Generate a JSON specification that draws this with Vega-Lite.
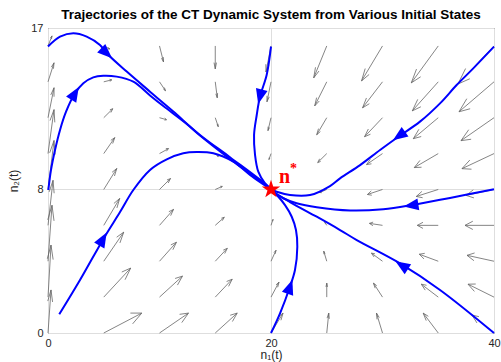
{
  "$schema": "https://vega.github.io/schema/vega-lite/v6.json",
  "width": 446,
  "height": 305,
  "autosize": "none",
  "padding": {"left": 48, "top": 28, "right": 7, "bottom": 29},
  "title": {"text": "Trajectories of the CT Dynamic System from Various Initial States", "fontSize": 13.5, "fontWeight": "bold", "font": "Liberation Sans", "color": "#000000", "anchor": "middle", "frame": "group", "offset": 1},
  "config": {
    "view": {"stroke": "#262626", "strokeWidth": 1},
    "axis": {"labelFont": "Liberation Sans", "labelFontSize": 11, "labelColor": "#262626", "titleFont": "Liberation Sans", "titleFontSize": 12, "titleFontWeight": "normal", "titleColor": "#262626", "gridColor": "#dedede", "gridWidth": 1, "ticks": false, "domain": false, "labelFlush": false, "labelOverlap": false},
    "axisX": {"labelPadding": 4, "titlePadding": 1},
    "axisY": {"labelPadding": 5, "titlePadding": 10}
  },
  "datasets": {
    "arrows": [
      {"x":0,"y":0,"hx":0.27,"hy":2.4,"b1x":-0.02,"b1y":1.78,"b2x":0.41,"b2y":1.73},
      {"x":0,"y":2,"hx":0.27,"hy":4.9,"b1x":-0.06,"b1y":4.14,"b2x":0.46,"b2y":4.09},
      {"x":0,"y":4,"hx":0.36,"hy":7.12,"b1x":-0.02,"b1y":6.31,"b2x":0.54,"b2y":6.25},
      {"x":0,"y":6,"hx":0.45,"hy":8.51,"b1x":0.11,"b1y":7.87,"b2x":0.55,"b2y":7.79},
      {"x":0,"y":8,"hx":0.54,"hy":10.73,"b1x":0.15,"b1y":10.04,"b2x":0.64,"b2y":9.95},
      {"x":0,"y":10,"hx":0.54,"hy":12.45,"b1x":0.18,"b1y":11.84,"b2x":0.61,"b2y":11.74},
      {"x":0,"y":12,"hx":0.54,"hy":13.67,"b1x":0.25,"b1y":13.27,"b2x":0.54,"b2y":13.17},
      {"x":0,"y":14,"hx":0.54,"hy":15.06,"b1x":0.3,"b1y":14.82,"b2x":0.49,"b2y":14.73},
      {"x":0,"y":16,"hx":0.36,"hy":16.56,"b1x":0.21,"b1y":16.44,"b2x":0.31,"b2y":16.38},
      {"x":5,"y":0,"hx":8.41,"hy":1.11,"b1x":7.39,"b1y":1.11,"b2x":7.59,"b2y":0.51},
      {"x":5,"y":2,"hx":7.42,"hy":3.62,"b1x":6.62,"b1y":3.4,"b2x":6.91,"b2y":2.97},
      {"x":5,"y":4,"hx":6.79,"hy":5.62,"b1x":6.16,"b1y":5.34,"b2x":6.45,"b2y":5.02},
      {"x":5,"y":6,"hx":6.43,"hy":7.5,"b1x":5.91,"b1y":7.22,"b2x":6.18,"b2y":6.97},
      {"x":5,"y":8,"hx":6.17,"hy":9.17,"b1x":5.75,"b1y":8.96,"b2x":5.96,"b2y":8.75},
      {"x":5,"y":10,"hx":5.99,"hy":10.89,"b1x":5.64,"b1y":10.74,"b2x":5.8,"b2y":10.56},
      {"x":5,"y":12,"hx":5.81,"hy":12.5,"b1x":5.55,"b1y":12.44,"b2x":5.64,"b2y":12.29},
      {"x":5,"y":14,"hx":5.72,"hy":14.11,"b1x":5.52,"b1y":14.14,"b2x":5.54,"b2y":14.02},
      {"x":5,"y":16,"hx":5.54,"hy":15.83,"b1x":5.41,"b1y":15.92,"b2x":5.38,"b2y":15.83},
      {"x":10,"y":0,"hx":12.6,"hy":1.11,"b1x":11.8,"b1y":1.04,"b2x":12.0,"b2y":0.58},
      {"x":10,"y":2,"hx":12.06,"hy":3.17,"b1x":11.4,"b1y":3.04,"b2x":11.61,"b2y":2.67},
      {"x":10,"y":4,"hx":11.52,"hy":5.06,"b1x":11.02,"b1y":4.91,"b2x":11.2,"b2y":4.64},
      {"x":10,"y":6,"hx":11.26,"hy":6.89,"b1x":10.84,"b1y":6.76,"b2x":11.0,"b2y":6.54},
      {"x":10,"y":8,"hx":10.99,"hy":8.61,"b1x":10.67,"b1y":8.53,"b2x":10.78,"b2y":8.36},
      {"x":10,"y":10,"hx":10.81,"hy":10.28,"b1x":10.57,"b1y":10.28,"b2x":10.62,"b2y":10.13},
      {"x":10,"y":12,"hx":10.63,"hy":11.89,"b1x":10.47,"b1y":11.98,"b2x":10.45,"b2y":11.86},
      {"x":10,"y":14,"hx":10.54,"hy":13.5,"b1x":10.44,"b1y":13.68,"b2x":10.35,"b2y":13.59},
      {"x":10,"y":16,"hx":10.36,"hy":15.11,"b1x":10.34,"b1y":15.38,"b2x":10.18,"b2y":15.32},
      {"x":15,"y":0,"hx":16.97,"hy":1.11,"b1x":16.34,"b1y":0.99,"b2x":16.54,"b2y":0.64},
      {"x":15,"y":2,"hx":16.52,"hy":3.0,"b1x":16.02,"b1y":2.87,"b2x":16.2,"b2y":2.6},
      {"x":15,"y":4,"hx":16.08,"hy":4.72,"b1x":15.72,"b1y":4.62,"b2x":15.85,"b2y":4.43},
      {"x":15,"y":6,"hx":15.81,"hy":6.45,"b1x":15.55,"b1y":6.4,"b2x":15.63,"b2y":6.26},
      {"x":15,"y":8,"hx":15.63,"hy":8.17,"b1x":15.45,"b1y":8.18,"b2x":15.48,"b2y":8.07},
      {"x":15,"y":10,"hx":15.27,"hy":9.83,"b1x":15.21,"b1y":9.9,"b2x":15.18,"b2y":9.85},
      {"x":15,"y":12,"hx":15.27,"hy":11.5,"b1x":15.24,"b1y":11.66,"b2x":15.15,"b2y":11.61},
      {"x":15,"y":14,"hx":15.18,"hy":13.11,"b1x":15.21,"b1y":13.37,"b2x":15.05,"b2y":13.33},
      {"x":15,"y":16,"hx":15.0,"hy":14.72,"b1x":15.11,"b1y":15.07,"b2x":14.89,"b2y":15.07},
      {"x":20,"y":0,"hx":21.08,"hy":1.11,"b1x":20.69,"b1y":0.91,"b2x":20.89,"b2y":0.71},
      {"x":20,"y":2,"hx":20.72,"hy":2.84,"b1x":20.45,"b1y":2.68,"b2x":20.6,"b2y":2.55},
      {"x":20,"y":4,"hx":20.45,"hy":4.61,"b1x":20.27,"b1y":4.49,"b2x":20.38,"b2y":4.41},
      {"x":20,"y":6,"hx":20.18,"hy":6.33,"b1x":20.1,"b1y":6.26,"b2x":20.16,"b2y":6.23},
      {"x":20,"y":10,"hx":19.82,"hy":9.67,"b1x":19.9,"b1y":9.74,"b2x":19.84,"b2y":9.78},
      {"x":20,"y":12,"hx":19.73,"hy":11.28,"b1x":19.87,"b1y":11.45,"b2x":19.74,"b2y":11.5},
      {"x":20,"y":14,"hx":19.64,"hy":12.89,"b1x":19.84,"b1y":13.16,"b2x":19.64,"b2y":13.22},
      {"x":20,"y":16,"hx":19.55,"hy":14.55,"b1x":19.8,"b1y":14.9,"b2x":19.54,"b2y":14.98},
      {"x":25,"y":0,"hx":25.18,"hy":1.11,"b1x":25.03,"b1y":0.83,"b2x":25.23,"b2y":0.79},
      {"x":25,"y":2,"hx":25.0,"hy":2.78,"b1x":24.93,"b1y":2.57,"b2x":25.07,"b2y":2.57},
      {"x":25,"y":4,"hx":24.73,"hy":4.56,"b1x":24.75,"b1y":4.39,"b2x":24.85,"b2y":4.43},
      {"x":25,"y":6,"hx":24.82,"hy":6.17,"b1x":24.85,"b1y":6.11,"b2x":24.88,"b2y":6.14},
      {"x":25,"y":8,"hx":24.37,"hy":7.83,"b1x":24.56,"b1y":7.82,"b2x":24.53,"b2y":7.93},
      {"x":25,"y":10,"hx":24.19,"hy":9.5,"b1x":24.45,"b1y":9.56,"b2x":24.36,"b2y":9.71},
      {"x":25,"y":12,"hx":24.1,"hy":11.05,"b1x":24.43,"b1y":11.23,"b2x":24.26,"b2y":11.39},
      {"x":25,"y":14,"hx":23.92,"hy":12.66,"b1x":24.33,"b1y":12.93,"b2x":24.09,"b2y":13.12},
      {"x":25,"y":16,"hx":23.83,"hy":14.22,"b1x":24.3,"b1y":14.6,"b2x":23.99,"b2y":14.81},
      {"x":30,"y":0,"hx":29.46,"hy":1.11,"b1x":29.51,"b1y":0.76,"b2x":29.71,"b2y":0.86},
      {"x":30,"y":2,"hx":29.19,"hy":2.78,"b1x":29.34,"b1y":2.5,"b2x":29.48,"b2y":2.64},
      {"x":30,"y":4,"hx":29.01,"hy":4.45,"b1x":29.24,"b1y":4.24,"b2x":29.32,"b2y":4.42},
      {"x":30,"y":6,"hx":28.83,"hy":6.11,"b1x":29.14,"b1y":5.98,"b2x":29.16,"b2y":6.18},
      {"x":30,"y":8,"hx":28.65,"hy":7.72,"b1x":29.04,"b1y":7.68,"b2x":28.99,"b2y":7.92},
      {"x":30,"y":10,"hx":28.57,"hy":9.39,"b1x":29.01,"b1y":9.43,"b2x":28.9,"b2y":9.68},
      {"x":30,"y":12,"hx":28.39,"hy":10.94,"b1x":28.92,"b1y":11.08,"b2x":28.73,"b2y":11.37},
      {"x":30,"y":14,"hx":28.21,"hy":12.55,"b1x":28.82,"b1y":12.78,"b2x":28.56,"b2y":13.1},
      {"x":30,"y":16,"hx":28.12,"hy":14.05,"b1x":28.8,"b1y":14.41,"b2x":28.45,"b2y":14.74},
      {"x":35,"y":0,"hx":33.65,"hy":1.11,"b1x":33.92,"b1y":0.69,"b2x":34.11,"b2y":0.93},
      {"x":35,"y":2,"hx":33.48,"hy":2.72,"b1x":33.83,"b1y":2.39,"b2x":33.95,"b2y":2.66},
      {"x":35,"y":4,"hx":33.3,"hy":4.39,"b1x":33.72,"b1y":4.13,"b2x":33.79,"b2y":4.44},
      {"x":35,"y":6,"hx":33.12,"hy":6.0,"b1x":33.63,"b1y":5.83,"b2x":33.63,"b2y":6.17},
      {"x":35,"y":8,"hx":33.03,"hy":7.61,"b1x":33.6,"b1y":7.54,"b2x":33.53,"b2y":7.89},
      {"x":35,"y":10,"hx":32.85,"hy":9.22,"b1x":33.5,"b1y":9.24,"b2x":33.36,"b2y":9.62},
      {"x":35,"y":12,"hx":32.76,"hy":10.83,"b1x":33.47,"b1y":10.95,"b2x":33.26,"b2y":11.35},
      {"x":35,"y":14,"hx":32.67,"hy":12.38,"b1x":33.44,"b1y":12.61,"b2x":33.16,"b2y":13.02},
      {"x":35,"y":16,"hx":32.58,"hy":13.94,"b1x":33.42,"b1y":14.28,"b2x":33.05,"b2y":14.71},
      {"x":40,"y":0,"hx":38.03,"hy":1.0,"b1x":38.47,"b1y":0.56,"b2x":38.65,"b2y":0.91},
      {"x":40,"y":2,"hx":37.67,"hy":2.72,"b1x":38.24,"b1y":2.32,"b2x":38.36,"b2y":2.73},
      {"x":40,"y":4,"hx":37.58,"hy":4.33,"b1x":38.2,"b1y":4.03,"b2x":38.26,"b2y":4.46},
      {"x":40,"y":6,"hx":37.4,"hy":6.0,"b1x":38.1,"b1y":5.77,"b2x":38.1,"b2y":6.23},
      {"x":40,"y":8,"hx":37.49,"hy":7.67,"b1x":38.2,"b1y":7.53,"b2x":38.14,"b2y":7.98},
      {"x":40,"y":10,"hx":37.13,"hy":9.16,"b1x":37.98,"b1y":9.13,"b2x":37.83,"b2y":9.64},
      {"x":40,"y":12,"hx":37.04,"hy":10.72,"b1x":37.95,"b1y":10.8,"b2x":37.73,"b2y":11.33},
      {"x":40,"y":14,"hx":36.86,"hy":12.33,"b1x":37.86,"b1y":12.5,"b2x":37.56,"b2y":13.06},
      {"x":40,"y":16,"hx":36.77,"hy":13.88,"b1x":37.83,"b1y":14.17,"b2x":37.45,"b2y":14.74}
    ],
    "traj": [
      {"t":"T1","o":0,"x":0.0,"y":15.97},{"t":"T1","o":1,"x":1.08,"y":16.52},{"t":"T1","o":2,"x":2.27,"y":16.71},{"t":"T1","o":3,"x":3.47,"y":16.52},{"t":"T1","o":4,"x":4.66,"y":16.05},{"t":"T1","o":5,"x":5.26,"y":15.59},{"t":"T1","o":6,"x":7.06,"y":14.57},{"t":"T1","o":7,"x":9.15,"y":13.45},{"t":"T1","o":8,"x":11.24,"y":12.34},{"t":"T1","o":9,"x":13.63,"y":11.04},{"t":"T1","o":10,"x":16.32,"y":9.8},{"t":"T1","o":11,"x":19.61,"y":8.25},{"t":"T1","o":12,"x":20,"y":8},
      {"t":"T2","o":0,"x":0.03,"y":7.97},{"t":"T2","o":1,"x":0.27,"y":9.09},{"t":"T2","o":2,"x":0.63,"y":10.2},{"t":"T2","o":3,"x":1.08,"y":11.32},{"t":"T2","o":4,"x":1.61,"y":12.32},{"t":"T2","o":5,"x":2.42,"y":13.36},{"t":"T2","o":6,"x":3.17,"y":13.92},{"t":"T2","o":7,"x":4.06,"y":14.25},{"t":"T2","o":8,"x":4.96,"y":14.34},{"t":"T2","o":9,"x":6.16,"y":14.29},{"t":"T2","o":10,"x":7.65,"y":14.01},{"t":"T2","o":11,"x":9.15,"y":13.24},{"t":"T2","o":12,"x":10.34,"y":12.65},{"t":"T2","o":13,"x":12.44,"y":11.65},{"t":"T2","o":14,"x":13.63,"y":11.01},{"t":"T2","o":15,"x":16.32,"y":9.7},{"t":"T2","o":16,"x":19.61,"y":8.2},{"t":"T2","o":17,"x":20,"y":8},
      {"t":"T3","o":0,"x":1.01,"y":1.04},{"t":"T3","o":1,"x":2.87,"y":2.95},{"t":"T3","o":2,"x":5.02,"y":5.3},{"t":"T3","o":3,"x":6.46,"y":6.74},{"t":"T3","o":4,"x":7.65,"y":7.97},{"t":"T3","o":5,"x":9.15,"y":9.09},{"t":"T3","o":6,"x":10.65,"y":9.68},{"t":"T3","o":7,"x":12.13,"y":10.02},{"t":"T3","o":8,"x":13.34,"y":10.09},{"t":"T3","o":9,"x":14.83,"y":10.02},{"t":"T3","o":10,"x":16.62,"y":9.55},{"t":"T3","o":11,"x":18.12,"y":8.81},{"t":"T3","o":12,"x":19.19,"y":8.33},{"t":"T3","o":13,"x":20,"y":8},
      {"t":"T4","o":0,"x":20.0,"y":15.96},{"t":"T4","o":1,"x":19.61,"y":14.38},{"t":"T4","o":2,"x":19.01,"y":13.17},{"t":"T4","o":3,"x":18.72,"y":12.15},{"t":"T4","o":4,"x":18.48,"y":11.04},{"t":"T4","o":5,"x":18.57,"y":9.92},{"t":"T4","o":6,"x":18.86,"y":8.99},{"t":"T4","o":7,"x":19.46,"y":8.34},{"t":"T4","o":8,"x":20,"y":8},
      {"t":"T5","o":0,"x":40,"y":15.96},{"t":"T5","o":1,"x":38.14,"y":14.75},{"t":"T5","o":2,"x":36.65,"y":13.82},{"t":"T5","o":3,"x":35.16,"y":12.8},{"t":"T5","o":4,"x":33.36,"y":11.78},{"t":"T5","o":5,"x":31.42,"y":10.94},{"t":"T5","o":6,"x":29.78,"y":10.2},{"t":"T5","o":7,"x":27.99,"y":9.36},{"t":"T5","o":8,"x":26.19,"y":8.62},{"t":"T5","o":9,"x":25.29,"y":8.19},{"t":"T5","o":10,"x":23.5,"y":7.69},{"t":"T5","o":11,"x":21.7,"y":7.69},{"t":"T5","o":12,"x":20.51,"y":7.87},{"t":"T5","o":13,"x":20,"y":8},
      {"t":"T6","o":0,"x":40,"y":8.01},{"t":"T6","o":1,"x":36.05,"y":7.53},{"t":"T6","o":2,"x":32.62,"y":7.13},{"t":"T6","o":3,"x":30.07,"y":6.9},{"t":"T6","o":4,"x":27.09,"y":6.83},{"t":"T6","o":5,"x":24.1,"y":7.01},{"t":"T6","o":6,"x":22.3,"y":7.23},{"t":"T6","o":7,"x":21.1,"y":7.51},{"t":"T6","o":8,"x":20.21,"y":7.87},{"t":"T6","o":9,"x":20,"y":8},
      {"t":"T7","o":0,"x":40,"y":0},{"t":"T7","o":1,"x":35.16,"y":2.4},{"t":"T7","o":2,"x":31.57,"y":3.88},{"t":"T7","o":3,"x":27.69,"y":5.18},{"t":"T7","o":4,"x":26.19,"y":5.74},{"t":"T7","o":5,"x":24.1,"y":6.48},{"t":"T7","o":6,"x":21.7,"y":7.3},{"t":"T7","o":7,"x":20.21,"y":7.87},{"t":"T7","o":8,"x":20,"y":8},
      {"t":"T8","o":0,"x":20,"y":0},{"t":"T8","o":1,"x":20.81,"y":1.1},{"t":"T8","o":2,"x":21.7,"y":2.58},{"t":"T8","o":3,"x":22.15,"y":3.51},{"t":"T8","o":4,"x":22.36,"y":4.81},{"t":"T8","o":5,"x":22.24,"y":5.74},{"t":"T8","o":6,"x":21.86,"y":6.48},{"t":"T8","o":7,"x":21.26,"y":7.13},{"t":"T8","o":8,"x":20.52,"y":7.69},{"t":"T8","o":9,"x":20,"y":8}
    ],
    "heads": [
      {"t":"T1","x":5.26,"y":15.59},
      {"t":"T2","x":2.42,"y":13.36},
      {"t":"T3","x":4.93,"y":5.24},
      {"t":"T4","x":19.01,"y":13.17},
      {"t":"T5","x":31.48,"y":10.98},
      {"t":"T6","x":32.56,"y":7.11},
      {"t":"T7","x":31.72,"y":3.78},
      {"t":"T8","x":21.7,"y":2.58}
    ],
    "eq": [{"x":20,"y":8,"label":"n","sup":"*"}]
  },
  "encoding": {
    "x": {"field": "x", "type": "quantitative", "scale": {"domain": [0, 40], "nice": false, "zero": false}, "axis": {"values": [0, 20, 40], "title": "n₁(t)", "grid": true}},
    "y": {"field": "y", "type": "quantitative", "scale": {"domain": [0, 17], "nice": false, "zero": false}, "axis": {"values": [0, 8, 17], "title": "n₂(t)", "grid": true}}
  },
  "layer": [
    {
      "data": {"name": "arrows"},
      "mark": {"type": "rule", "color": "#666666", "strokeWidth": 0.8},
      "encoding": {"x2": {"field": "hx"}, "y2": {"field": "hy"}}
    },
    {
      "data": {"name": "arrows"},
      "mark": {"type": "rule", "color": "#666666", "strokeWidth": 0.8},
      "encoding": {
        "x": {"field": "hx", "type": "quantitative", "scale": {"domain": [0, 40], "nice": false, "zero": false}, "axis": {"values": [0, 20, 40], "title": "n₁(t)", "grid": true}},
        "y": {"field": "hy", "type": "quantitative", "scale": {"domain": [0, 17], "nice": false, "zero": false}, "axis": {"values": [0, 8, 17], "title": "n₂(t)", "grid": true}},
        "x2": {"field": "b1x"}, "y2": {"field": "b1y"}
      }
    },
    {
      "data": {"name": "arrows"},
      "mark": {"type": "rule", "color": "#666666", "strokeWidth": 0.8},
      "encoding": {
        "x": {"field": "hx", "type": "quantitative", "scale": {"domain": [0, 40], "nice": false, "zero": false}, "axis": {"values": [0, 20, 40], "title": "n₁(t)", "grid": true}},
        "y": {"field": "hy", "type": "quantitative", "scale": {"domain": [0, 17], "nice": false, "zero": false}, "axis": {"values": [0, 8, 17], "title": "n₂(t)", "grid": true}},
        "x2": {"field": "b2x"}, "y2": {"field": "b2y"}
      }
    },
    {
      "data": {"name": "traj"},
      "mark": {"type": "line", "color": "#0000ff", "strokeWidth": 2, "interpolate": "catmull-rom"},
      "encoding": {"detail": {"field": "t"}, "order": {"field": "o", "type": "quantitative"}}
    },
    {"data": {"name": "heads"}, "transform": [{"filter": "datum.t == 'T1'"}], "mark": {"type": "point", "shape": "M0,-1L0.8,1L-0.8,1Z", "filled": true, "color": "#0000ff", "opacity": 1, "size": 220, "angle": 133}},
    {"data": {"name": "heads"}, "transform": [{"filter": "datum.t == 'T2'"}], "mark": {"type": "point", "shape": "M0,-1L0.8,1L-0.8,1Z", "filled": true, "color": "#0000ff", "opacity": 1, "size": 220, "angle": 31}},
    {"data": {"name": "heads"}, "transform": [{"filter": "datum.t == 'T3'"}], "mark": {"type": "point", "shape": "M0,-1L0.8,1L-0.8,1Z", "filled": true, "color": "#0000ff", "opacity": 1, "size": 220, "angle": 30}},
    {"data": {"name": "heads"}, "transform": [{"filter": "datum.t == 'T4'"}], "mark": {"type": "point", "shape": "M0,-1L0.8,1L-0.8,1Z", "filled": true, "color": "#0000ff", "opacity": 1, "size": 220, "angle": 194}},
    {"data": {"name": "heads"}, "transform": [{"filter": "datum.t == 'T5'"}], "mark": {"type": "point", "shape": "M0,-1L0.8,1L-0.8,1Z", "filled": true, "color": "#0000ff", "opacity": 1, "size": 220, "angle": 235}},
    {"data": {"name": "heads"}, "transform": [{"filter": "datum.t == 'T6'"}], "mark": {"type": "point", "shape": "M0,-1L0.8,1L-0.8,1Z", "filled": true, "color": "#0000ff", "opacity": 1, "size": 220, "angle": 261}},
    {"data": {"name": "heads"}, "transform": [{"filter": "datum.t == 'T7'"}], "mark": {"type": "point", "shape": "M0,-1L0.8,1L-0.8,1Z", "filled": true, "color": "#0000ff", "opacity": 1, "size": 220, "angle": 303}},
    {"data": {"name": "heads"}, "transform": [{"filter": "datum.t == 'T8'"}], "mark": {"type": "point", "shape": "M0,-1L0.8,1L-0.8,1Z", "filled": true, "color": "#0000ff", "opacity": 1, "size": 220, "angle": 19}},
    {
      "data": {"name": "eq"},
      "mark": {"type": "point", "shape": "M0,-1L0.225,-0.309L0.951,-0.309L0.363,0.118L0.588,0.809L0,0.382L-0.588,0.809L-0.363,0.118L-0.951,-0.309L-0.225,-0.309Z", "filled": true, "color": "#ff0000", "opacity": 1, "size": 380}
    },
    {
      "data": {"name": "eq"},
      "mark": {"type": "text", "font": "Liberation Serif", "fontWeight": "bold", "fontSize": 20, "color": "#ff0000", "align": "left", "baseline": "alphabetic", "dx": 8, "dy": -6},
      "encoding": {"text": {"field": "label"}}
    },
    {
      "data": {"name": "eq"},
      "mark": {"type": "text", "font": "Liberation Serif", "fontWeight": "bold", "fontSize": 14, "color": "#ff0000", "align": "left", "baseline": "alphabetic", "dx": 19, "dy": -16},
      "encoding": {"text": {"field": "sup"}}
    }
  ]
}
